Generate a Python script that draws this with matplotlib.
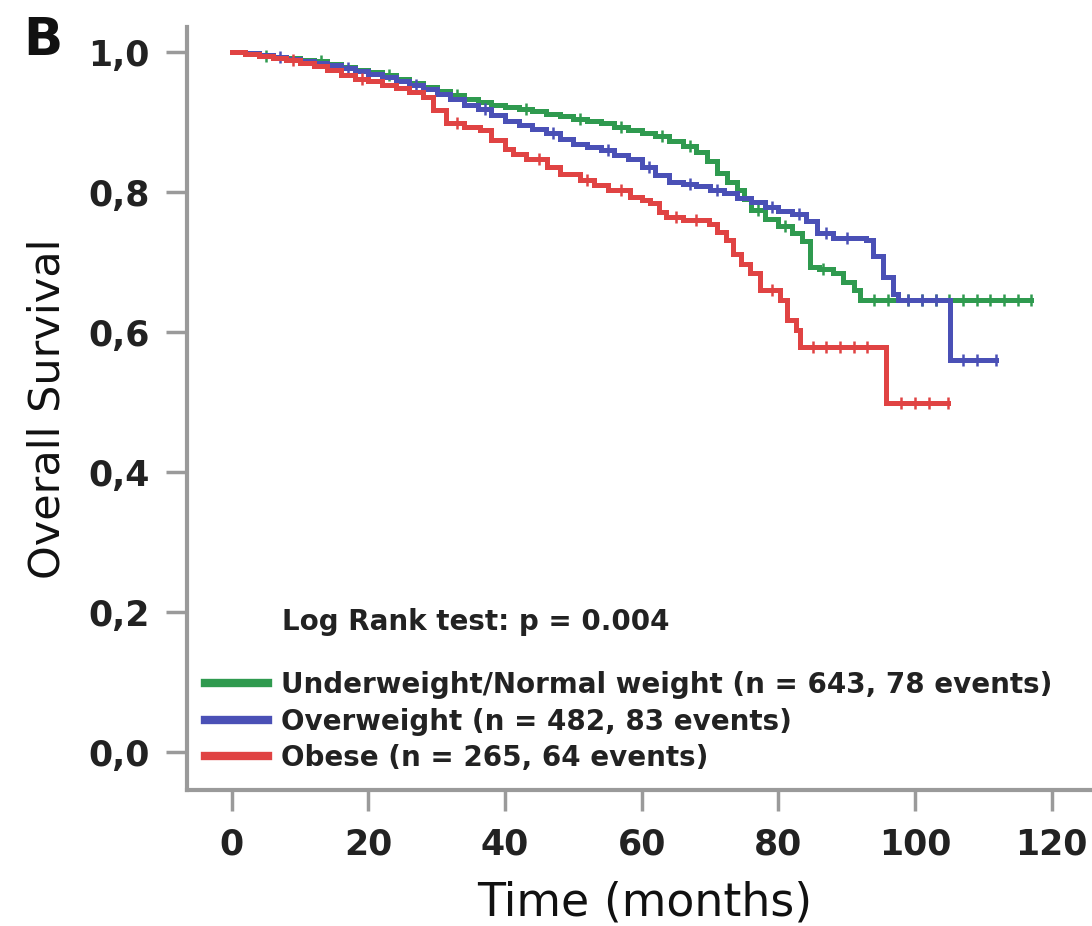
import numpy as np
import matplotlib
matplotlib.use("Agg")
import matplotlib.pyplot as plt
from matplotlib.lines import Line2D

# Kaplan-Meier curves (time in months, survival)
normal_t = [0, 2, 4, 6, 8, 10, 12, 14, 16, 18, 20, 22, 24, 26, 28, 30, 32, 34, 36, 38,
            40, 42, 44, 46, 48, 50, 52, 54, 56, 58, 60, 62, 64, 66, 68, 69.5, 71, 72.5,
            74, 75, 76, 78, 80, 82, 83.5, 84.6, 86, 88, 89.5, 91, 92, 117]
normal_s = [1.000, 0.998, 0.995, 0.993, 0.991, 0.989, 0.987, 0.983, 0.979, 0.975, 0.972,
            0.967, 0.962, 0.956, 0.950, 0.944, 0.939, 0.933, 0.928, 0.925, 0.922, 0.919,
            0.916, 0.912, 0.908, 0.905, 0.901, 0.898, 0.893, 0.889, 0.885, 0.880, 0.873,
            0.866, 0.857, 0.845, 0.827, 0.815, 0.803, 0.790, 0.774, 0.762, 0.752, 0.742,
            0.730, 0.693, 0.690, 0.684, 0.672, 0.660, 0.646, 0.646]

over_t = [0, 2, 4, 6, 8, 10, 12, 14, 16, 18, 20, 22, 24, 26, 28, 30, 32, 34, 36, 38,
          40, 42, 44, 46, 48, 50, 52, 54, 56, 58, 60, 62, 64, 66, 68, 70, 72, 74, 76, 78,
          80, 82, 84, 85.6, 88, 92.9, 93.9, 95.3, 96.8, 97.5, 105.1, 111.9]
over_s = [1.000, 0.998, 0.996, 0.993, 0.990, 0.987, 0.984, 0.981, 0.977, 0.973, 0.969,
          0.964, 0.959, 0.953, 0.947, 0.940, 0.933, 0.925, 0.918, 0.910, 0.902, 0.896,
          0.890, 0.884, 0.876, 0.868, 0.864, 0.860, 0.853, 0.847, 0.836, 0.824, 0.815,
          0.811, 0.808, 0.803, 0.798, 0.792, 0.786, 0.779, 0.773, 0.768, 0.758, 0.741,
          0.735, 0.731, 0.708, 0.679, 0.655, 0.646, 0.560, 0.560]

obese_t = [0, 2, 4, 6, 8, 10, 12, 14, 16, 18, 20, 22, 24, 26, 28, 29.5, 31.4, 34, 36.3,
           38, 40, 41.2, 43, 46.1, 48, 50.9, 53, 55, 58.3, 60, 61.2, 62.5, 63.6, 66, 69.9,
           71, 72.4, 73.4, 74.5, 75.8, 77.3, 80.2, 81.2, 82.6, 83.1, 95.8, 104.8]
obese_s = [1.000, 0.997, 0.994, 0.991, 0.988, 0.985, 0.980, 0.974, 0.967, 0.962, 0.958,
           0.953, 0.948, 0.943, 0.936, 0.917, 0.898, 0.893, 0.889, 0.875, 0.862, 0.855,
           0.847, 0.836, 0.826, 0.817, 0.810, 0.803, 0.793, 0.789, 0.784, 0.772, 0.765,
           0.760, 0.755, 0.743, 0.731, 0.712, 0.697, 0.684, 0.660, 0.646, 0.617, 0.603,
           0.579, 0.498, 0.498]

# censored observations (months)
normal_cens = [5, 13, 23, 33, 43, 51, 57, 63, 67, 77, 81, 86.5, 94, 96, 99, 101, 103,
               105, 107, 109, 111, 113, 115, 117]
over_cens = [7, 17, 27, 37, 47, 55, 61, 67, 71, 79, 83, 87, 90, 99, 101, 103, 107, 109, 111.9]
obese_cens = [9, 19, 33, 45, 52, 57, 65, 68, 79, 85, 87, 89, 91, 93, 98, 100, 102, 104.8]

labels = ["Underweight/Normal weight (n = 643, 78 events)",
          "Overweight (n = 482, 83 events)",
          "Obese (n = 265, 64 events)"]
colors = ["#2f9a4f", "#4a50b6", "#e04343"]

x_ticks = [0, 20, 40, 60, 80, 100, 120]
y_ticks = [0.0, 0.2, 0.4, 0.6, 0.8, 1.0]
y_tick_labels = ["0,0", "0,2", "0,4", "0,6", "0,8", "1,0"]
p_text = "Log Rank test: p = 0.004"

GRAY = "#9a9a9a"

fig = plt.figure(figsize=(10.92, 9.26), dpi=100)
ax = fig.add_axes([0.1712, 0.1469, 0.8388, 0.8239])

curves = [(normal_t, normal_s, normal_cens),
          (over_t, over_s, over_cens),
          (obese_t, obese_s, obese_cens)]
for (t, s, cens), col in zip(curves, colors):
    ax.step(t, s, where="post", color=col, lw=3.6, solid_joinstyle="miter")
    t_arr = np.array(t)
    s_arr = np.array(s)
    idx = np.searchsorted(t_arr, cens, side="right") - 1
    ax.plot(cens, s_arr[idx], ls="none", marker="|", ms=9, mew=1.8, color=col)

ax.set_xlim(-6.55, 127.5)
ax.set_ylim(-0.054, 1.0357)
ax.set_xticks(x_ticks)
ax.set_yticks(y_ticks)
ax.set_yticklabels(y_tick_labels)

for side in ["top", "right"]:
    ax.spines[side].set_visible(False)
for side in ["left", "bottom"]:
    ax.spines[side].set_color(GRAY)
    ax.spines[side].set_linewidth(3)

ax.tick_params(axis="both", length=15, width=2.5, color=GRAY, pad=12,
               labelsize=25, labelcolor="#222222")
for lab in ax.get_xticklabels() + ax.get_yticklabels():
    lab.set_fontweight("bold")

ax.set_xlabel("Time (months)", fontsize=33, labelpad=14, color="#111111")
ax.set_ylabel("Overall Survival", fontsize=31, labelpad=14, color="#111111")

ax.text(7.3, 0.186, p_text, fontsize=20, fontweight="bold", va="center", ha="left",
        color="#222222")

handles = [Line2D([0], [0], color=c, lw=6) for c in colors]
leg = ax.legend(handles, labels, loc="upper left", bbox_to_anchor=(-3.9, 0.116),
                bbox_transform=ax.transData, frameon=False, borderpad=0,
                borderaxespad=0, handlelength=2.25, handletextpad=0.5,
                labelspacing=0.31, prop={"size": 20, "weight": "bold"})
for txt in leg.get_texts():
    txt.set_color("#222222")

fig.text(0.021, 1 - 55 / 926, "B", fontsize=37, fontweight="bold", va="baseline",
         ha="left", color="#111111")

fig.savefig("out.png", dpi=100)
